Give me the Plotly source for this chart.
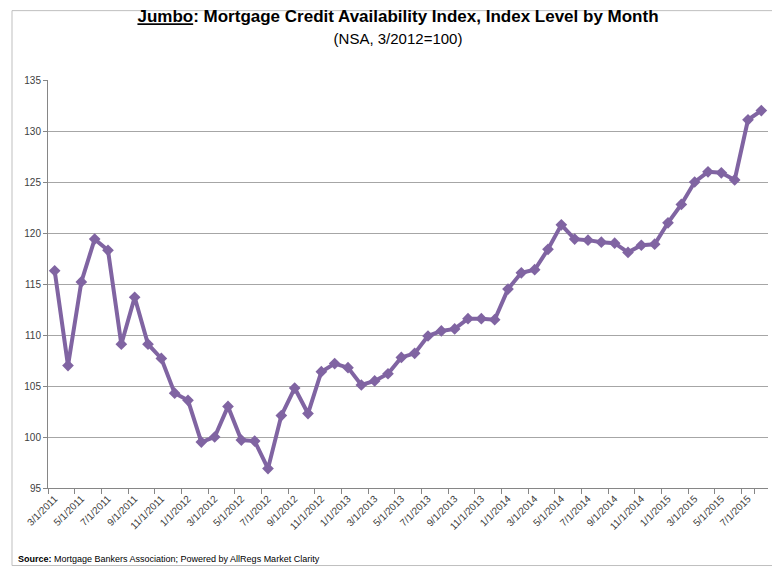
import plotly.graph_objects as go

months = []
for y in range(2011, 2016):
    for m in range(1, 13):
        if (y == 2011 and m < 3) or (y == 2015 and m > 8):
            continue
        months.append(f"{m}/1/{y}")

values = [116.3, 107.0, 115.2, 119.4, 118.3, 109.1, 113.7, 109.1, 107.7, 104.3,
          103.6, 99.5, 100.0, 103.0, 99.7, 99.6, 96.9, 102.1, 104.8, 102.3,
          106.4, 107.2, 106.8, 105.1, 105.5, 106.2, 107.8, 108.2, 109.9, 110.4,
          110.6, 111.6, 111.6, 111.5, 114.5, 116.1, 116.4, 118.4, 120.8, 119.4,
          119.3, 119.1, 119.0, 118.1, 118.8, 118.9, 121.0, 122.8, 125.0, 126.0,
          125.9, 125.2, 131.1, 132.0]

tick_labels = months[::2]

fig = go.Figure(go.Scatter(
    x=months, y=values, mode="lines+markers",
    line=dict(color="#8064A2", width=4),
    marker=dict(symbol="diamond", size=9, color="#8064A2"),
))

fig.update_layout(
    width=780, height=571,
    paper_bgcolor="white", plot_bgcolor="white",
    margin=dict(l=40, r=20, t=72, b=91),
    showlegend=False,
    font=dict(family="Liberation Sans, Arial", color="#404040"),
    title=dict(
        text="<b><u>Jumbo</u>: Mortgage Credit Availability Index, Index Level by Month</b><br><span style='font-size:15px'>(NSA, 3/2012=100)</span>",
        x=0.5, xanchor="center", y=0.975, yanchor="top",
        font=dict(size=17, color="#000000"),
    ),
    shapes=[dict(type="rect", xref="paper", yref="paper", x0=-0.05, x1=1.02, y0=-0.19, y1=1.17,
                 line=dict(color="#BFBFBF", width=1))],
    annotations=[dict(text="<b>Source:</b> Mortgage Bankers Association; Powered by AllRegs Market Clarity",
                      xref="paper", yref="paper", x=-0.045, y=-0.175, xanchor="left", yanchor="middle",
                      showarrow=False, font=dict(size=9, color="#000000"))],
)
fig.update_xaxes(
    type="category", categoryarray=months, tickvals=tick_labels, ticktext=tick_labels,
    range=[-0.5, len(months) - 0.5],
    tickangle=-45, tickfont=dict(size=10), tickson="boundaries",
    ticks="outside", ticklen=5, tickcolor="#868686",
    showline=True, linecolor="#868686", showgrid=False,
)
fig.update_yaxes(
    range=[95, 135], dtick=5, tickfont=dict(size=10),
    showgrid=True, gridcolor="#A6A6A6", showline=True, linecolor="#868686",
    ticks="outside", ticklen=4, tickcolor="#868686", zeroline=False,
)
fig.write_html("out.html")
